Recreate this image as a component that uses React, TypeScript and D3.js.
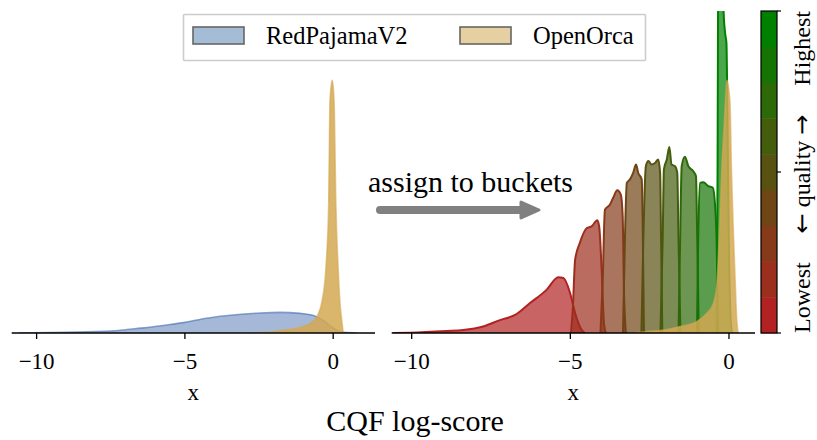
import React from 'react';
import * as d3 from 'd3';

// kde curves: [score, density as fraction of axis height]
const redPajama: [number, number][] = [
  [-10.6, 0], [-9.0, 0.002], [-7.5, 0.006], [-6.5, 0.015], [-5.6, 0.025], [-5.0, 0.033],
  [-4.27, 0.046], [-3.37, 0.056], [-2.47, 0.062], [-1.79, 0.064], [-1.11, 0.061],
  [-0.66, 0.054], [-0.27, 0.035], [0.01, 0.015], [0.35, 0.002], [0.8, 0],
];

const openOrca: [number, number][] = [
  [-3.0, 0], [-2.24, 0.002], [-1.68, 0.009], [-1.11, 0.018], [-0.7, 0.035], [-0.5, 0.06],
  [-0.39, 0.093], [-0.25, 0.196], [-0.15, 0.405], [-0.11, 0.72], [-0.03, 0.785],
  [0.03, 0.72], [0.09, 0.405], [0.17, 0.196], [0.23, 0.093], [0.28, 0.047], [0.34, 0],
];

const openOrcaRight: [number, number][] = [
  [-3.0, 0], [-2.6, 0.004], [-2.0, 0.01], [-1.54, 0.02], [-1.02, 0.035], [-0.7, 0.061],
  [-0.49, 0.092], [-0.39, 0.144], [-0.31, 0.29], [-0.23, 0.5], [-0.15, 0.65], [-0.1, 0.74],
  [-0.07, 0.785], [0.03, 0.72], [0.08, 0.5], [0.14, 0.31], [0.2, 0.15], [0.24, 0.05], [0.29, 0],
];

// quality buckets, lowest to highest
const buckets: [number, number][][] = [
  [[-10.6, 0], [-10.05, 0.001], [-8.9, 0.006], [-8.38, 0.009], [-7.75, 0.02], [-7.22, 0.04],
    [-6.74, 0.056], [-6.27, 0.093], [-5.75, 0.134], [-5.38, 0.173], [-5.22, 0.171],
    [-5.01, 0.125], [-4.85, 0.062], [-4.64, 0.009], [-4.54, 0]],
  [[-4.98, 0], [-4.92, 0.08], [-4.85, 0.227], [-4.7, 0.28], [-4.48, 0.326], [-4.33, 0.331],
    [-4.15, 0.35], [-4.09, 0.33], [-4.01, 0.19], [-3.94, 0.03], [-3.88, 0]],
  [[-4.05, 0], [-3.98, 0.165], [-3.91, 0.383], [-3.75, 0.399], [-3.65, 0.42], [-3.52, 0.443],
    [-3.41, 0.43], [-3.35, 0.362], [-3.31, 0.134], [-3.25, 0]],
  [[-3.34, 0], [-3.28, 0.29], [-3.22, 0.466], [-3.12, 0.477], [-3.02, 0.497], [-2.93, 0.523],
    [-2.86, 0.497], [-2.75, 0.477], [-2.72, 0.343], [-2.68, 0]],
  [[-2.76, 0], [-2.7, 0.29], [-2.62, 0.518], [-2.54, 0.534], [-2.44, 0.523], [-2.33, 0.528],
    [-2.23, 0.539], [-2.17, 0.497], [-2.14, 0.29], [-2.1, 0]],
  [[-2.16, 0], [-2.09, 0.29], [-2.05, 0.508], [-1.96, 0.539], [-1.88, 0.578], [-1.81, 0.523],
    [-1.7, 0.518], [-1.63, 0.497], [-1.59, 0.29], [-1.53, 0]],
  [[-1.59, 0], [-1.54, 0.29], [-1.49, 0.518], [-1.39, 0.547], [-1.28, 0.518], [-1.13, 0.503],
    [-1.04, 0.487], [-1.0, 0.29], [-0.95, 0]],
  [[-1.01, 0], [-0.97, 0.29], [-0.91, 0.466], [-0.81, 0.468], [-0.65, 0.456], [-0.51, 0.451],
    [-0.44, 0.399], [-0.39, 0.29], [-0.34, 0]],
  [[-0.39, 0], [-0.36, 0.5], [-0.33, 1.4], [-0.26, 1.6], [-0.2, 1.3], [-0.17, 1.0],
    [-0.12, 0.93], [-0.08, 0.9], [-0.04, 0.6], [0.0, 0.25], [0.05, 0.05], [0.1, 0]],
];

const xTicks = [-10, -5, 0];
const legendItems = ['RedPajamaV2', 'OpenOrca'];

const W = 817;
const H = 440;
const FONT = '"Liberation Serif", "DejaVu Serif", serif';
const ARROW_FONT = '"DejaVu Sans", sans-serif';

const lowColor = '#b22222';
const highColor = '#008000';
const bucketColor = (i: number) => d3.interpolateRgb(lowColor, highColor)(i / (buckets.length - 1));

const top = 11;
const base = 333;

const y = d3.scaleLinear().domain([0, 1]).range([base, top]);
const xLeft = d3.scaleLinear().domain([-10.84, 1.41]).range([11.7, 375]);
const xRight = d3.scaleLinear().domain([-10.63, 0.82]).range([391.7, 755]);

const Axis: React.FC<{ x: d3.ScaleLinear<number, number> }> = ({ x }) => {
  const [a, b] = x.range();
  return (
    <g>
      <line x1={a} x2={b} y1={base} y2={base} stroke="#000" strokeWidth={1.6} />
      {xTicks.map((t) => (
        <g key={t} transform={`translate(${x(t)},${base})`}>
          <line y1={0} y2={6} stroke="#000" strokeWidth={1.3} />
          <text y={36} textAnchor="middle" fontSize={23} fontFamily={FONT}>
            {t < 0 ? `\u2212${Math.abs(t)}` : t}
          </text>
        </g>
      ))}
      <text x={(a + b) / 2} y={400} textAnchor="middle" fontSize={23} fontFamily={FONT}>x</text>
    </g>
  );
};

const Kde: React.FC<{
  data: [number, number][];
  x: d3.ScaleLinear<number, number>;
  color: string;
  fillOpacity: number;
  strokeOpacity?: number;
  strokeWidth?: number;
}> = ({ data, x, color, fillOpacity, strokeOpacity = 1, strokeWidth = 1.6 }) => {
  const area = d3.area<[number, number]>()
    .x((d) => x(d[0]))
    .y0(base)
    .y1((d) => y(d[1]))
    .curve(d3.curveMonotoneX);
  const line = d3.line<[number, number]>()
    .x((d) => x(d[0]))
    .y((d) => y(d[1]))
    .curve(d3.curveMonotoneX);
  return (
    <g>
      <path d={area(data) || ''} fill={color} fillOpacity={fillOpacity} />
      <path d={line(data) || ''} fill="none" stroke={color} strokeOpacity={strokeOpacity}
        strokeWidth={strokeWidth} strokeLinejoin="round" />
    </g>
  );
};

export default function App() {
  const cbX = 761;
  const cbW = 16;
  const cb = d3.scaleLinear().domain([0, buckets.length]).range([base, top]);
  const labelX = 810;

  return (
    <svg width={W} height={H} style={{ position: 'absolute', left: 0, top: 0 }}
      viewBox={`0 0 ${W} ${H}`}>
      <rect width={W} height={H} fill="#fff" />
      <defs>
        <clipPath id="clipL"><rect x={11} y={top} width={365} height={base - top} /></clipPath>
        <clipPath id="clipR"><rect x={391} y={top} width={365} height={base - top} /></clipPath>
      </defs>

      {/* left panel: raw distributions */}
      <g clipPath="url(#clipL)">
        <Kde data={redPajama} x={xLeft} color="#4c72b0" fillOpacity={0.5} strokeOpacity={0.65} />
        <Kde data={openOrca} x={xLeft} color="#d4a852" fillOpacity={0.85} strokeOpacity={0.6} />
      </g>
      <Axis x={xLeft} />

      {/* right panel: bucketed */}
      <g clipPath="url(#clipR)">
        {buckets.map((b, i) => (
          <Kde key={i} data={b} x={xRight} color={bucketColor(i)} fillOpacity={0.7} strokeWidth={2} />
        ))}
        <Kde data={openOrcaRight} x={xRight} color="#d4a852" fillOpacity={0.85} strokeOpacity={0.6} />
      </g>
      <Axis x={xRight} />

      <text x={415} y={431} textAnchor="middle" fontSize={30} fontFamily={FONT}>CQF log-score</text>

      {/* arrow */}
      <text x={368} y={192} fontSize={30} fontFamily={FONT}>assign to buckets</text>
      <line x1={380} x2={524} y1={210} y2={210} stroke="#808080" strokeWidth={8} strokeLinecap="round" />
      <path d="M521,202 L539,210 L521,218 Z" fill="#808080" stroke="#808080" strokeWidth={3}
        strokeLinejoin="round" />

      {/* legend */}
      <rect x={183.5} y={14.5} width={462} height={46} fill="#fff" stroke="#ccc" strokeWidth={1.6} rx={1} />
      {legendItems.map((name, i) => (
        <g key={name} transform={`translate(${i === 0 ? 193 : 460},0)`}>
          <rect x={0} y={27} width={51} height={17} fill={i === 0 ? '#a5bcd6' : '#e6cfa0'}
            stroke="#666" strokeWidth={1.6} />
          <text x={73} y={44} fontSize={24.5} fontFamily={FONT}>{name}</text>
        </g>
      ))}

      {/* colorbar */}
      {buckets.map((_, i) => (
        <rect key={i} x={cbX} y={cb(i + 1)} width={cbW} height={cb(i) - cb(i + 1) + 0.5}
          fill={bucketColor(i)} />
      ))}
      <rect x={cbX} y={top} width={cbW} height={base - top} fill="none" stroke="#000" strokeWidth={1.2} />
      {[top, (top + base) / 2, base].map((ty) => (
        <line key={ty} x1={cbX + cbW} x2={cbX + cbW + 4} y1={ty} y2={ty} stroke="#000" strokeWidth={1.2} />
      ))}
      <g fontSize={24} fontFamily={FONT}>
        <text transform={`translate(${labelX},${base}) rotate(-90)`} textAnchor="start">Lowest</text>
        <text transform={`translate(${labelX},${(top + base) / 2 + 2}) rotate(-90)`} textAnchor="middle">
          <tspan fontFamily={ARROW_FONT} fontSize={24}>{'\u2190'}</tspan>
          {'  quality  '}
          <tspan fontFamily={ARROW_FONT} fontSize={24}>{'\u2192'}</tspan>
        </text>
        <text transform={`translate(${labelX},${top}) rotate(-90)`} textAnchor="end">Highest</text>
      </g>
    </svg>
  );
}
